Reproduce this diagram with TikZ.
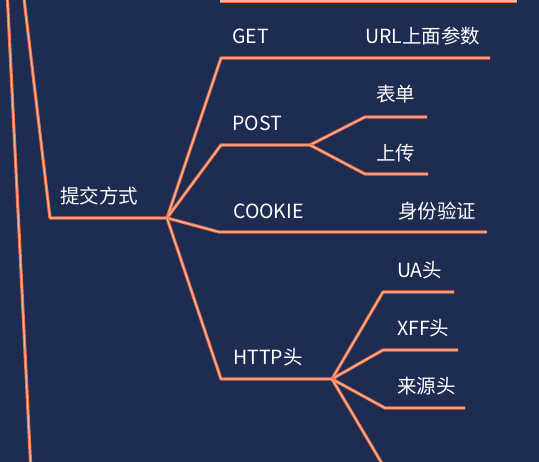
\documentclass[tikz,border=0pt]{standalone}
\usepackage{fontspec}
\setmainfont{Noto Sans CJK SC}
\usetikzlibrary{positioning}
\definecolor{mapnavy}{HTML}{1F2C52}
\definecolor{branchorange}{HTML}{EC6F43}
\definecolor{branchlight}{HTML}{F6B49A}

\begin{document}
\begin{tikzpicture}[
  x=1pt, y=-1pt,
  font=\fontsize{19.5}{22}\selectfont,
  tag/.style={text=white, inner sep=0pt, anchor=base west},
  branch/.style={
    draw=branchorange, line width=1pt,
    double=branchlight, double distance=1.2pt,
    line join=round
  },
]

% Background and page frame.
\fill[mapnavy] (0,0) rectangle (539,462);
\useasboundingbox (0,0) rectangle (539,462);
\clip (0,0) rectangle (539,462);

% Hubs and bends of the branches.
\coordinate (trunktop) at (7,-10);
\coordinate (trunkbot) at (31,472);
\coordinate (stemtop) at (23,-10);
\coordinate (stembend) at (50,218);
\coordinate (hub) at (167,218);
\coordinate (upleft) at (220,1);
\coordinate (upright) at (517,1);

\coordinate (getbend) at (221,58);
\coordinate (getend) at (490,58);
\coordinate (postbend) at (221,145);
\coordinate (posthub) at (310,145);
\coordinate (formbend) at (365,117);
\coordinate (formend) at (427,117);
\coordinate (upbend) at (365,174);
\coordinate (upend) at (428,174);
\coordinate (cookiebend) at (219,232);
\coordinate (cookieend) at (487,232);
\coordinate (httpbend) at (221,379);
\coordinate (httphub) at (332,379);
\coordinate (uabend) at (383,292);
\coordinate (uaend) at (454,292);
\coordinate (xffbend) at (383,350);
\coordinate (xffend) at (458,350);
\coordinate (refbend) at (385,408);
\coordinate (refend) at (465,408);
\coordinate (lowend) at (387,472);

% Branch lines.
\draw[branch] (trunktop) -- (trunkbot);
\draw[branch] (stemtop) -- (stembend) -- (hub);
\draw[branch] (upleft) -- (upright);
\draw[branch] (hub) -- (getbend) -- (getend);
\draw[branch] (hub) -- (postbend) -- (posthub);
\draw[branch] (posthub) -- (formbend) -- (formend);
\draw[branch] (posthub) -- (upbend) -- (upend);
\draw[branch] (hub) -- (cookiebend) -- (cookieend);
\draw[branch] (hub) -- (httpbend) -- (httphub);
\draw[branch] (httphub) -- (uabend) -- (uaend);
\draw[branch] (httphub) -- (xffbend) -- (xffend);
\draw[branch] (httphub) -- (refbend) -- (refend);
\draw[branch] (httphub) -- (lowend);

% Labels sitting on the branches.
\node[tag] (submit) at (60,204) {提交方式};
\node[tag] (get) at (232,44) {GET};
\node[tag] (url) at (365,44) {URL上面参数};
\node[tag] (post) at (232,131) {POST};
\node[tag] (form) at (376,102) {表单};
\node[tag] (upload) at (376,161) {上传};
\node[tag] (cookie) at (233,219) {COOKIE};
\node[tag] (auth) at (398,219) {身份验证};
\node[tag] (http) at (233,365) {HTTP头};
\node[tag] (ua) at (397,278) {UA头};
\node[tag] (xff) at (397,336) {XFF头};
\node[tag] (referer) at (397,394) {来源头};

\end{tikzpicture}
\end{document}
